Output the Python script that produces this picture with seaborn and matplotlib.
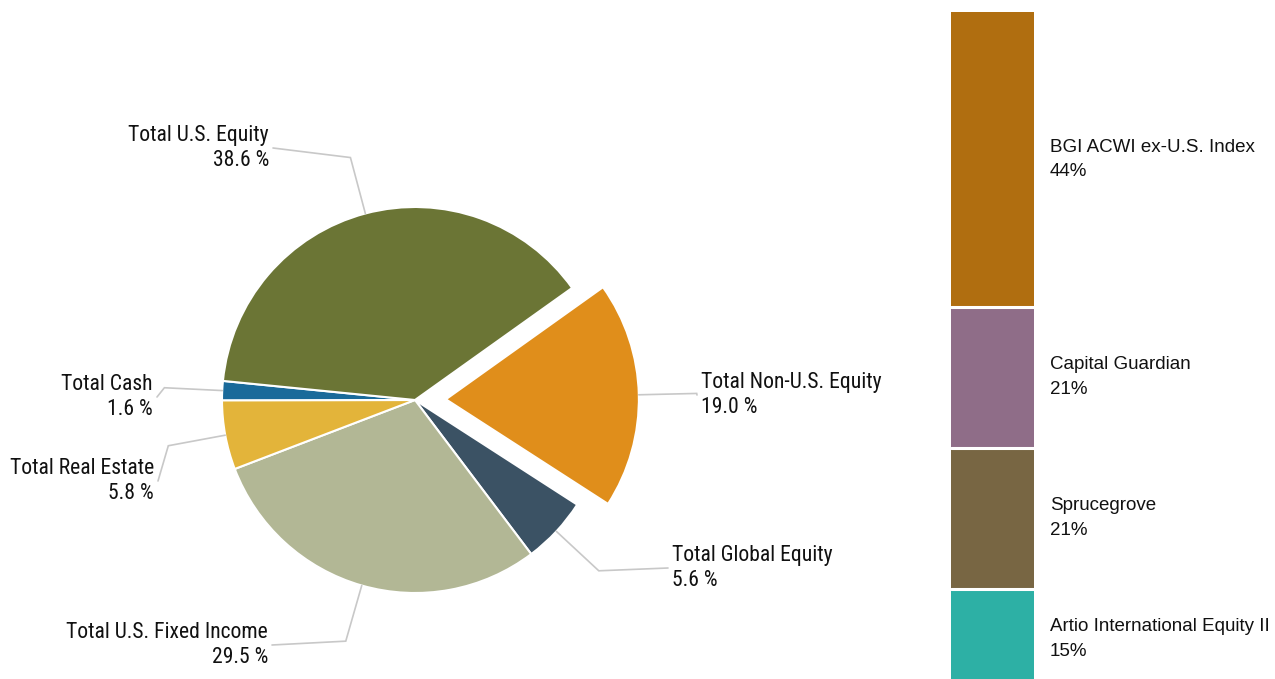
# Alocação de ativos: pizza por classe + barra empilhada dos gestores Non-U.S.
import numpy as np
import pandas as pd
import seaborn as sns
import matplotlib.pyplot as plt

# --- DADOS ---
pie_labels = ["Total Non-U.S. Equity", "Total Global Equity", "Total U.S. Fixed Income",
              "Total Real Estate", "Total Cash", "Total U.S. Equity"]
pie_values = [19.0, 5.6, 29.5, 5.8, 1.6, 38.6]
pie_colors = ["#e08e1b", "#3b5264", "#b2b795", "#e3b43a", "#1a6a9a", "#6b7535"]

mgr_labels = ["BGI ACWI ex-U.S. Index", "Capital Guardian", "Sprucegrove",
              "Artio International Equity II"]
mgr_values = [44, 21, 21, 15]
mgr_colors = ["#b06e10", "#8f6d88", "#786643", "#2db0a5"]

# --- CONFIGURAÇÕES ---
sns.set_theme(style="white")
plt.rcParams["font.family"] = ["Liberation Sans", "DejaVu Sans"]
narrow = ["Roboto Condensed", "Liberation Sans", "DejaVu Sans"]
txt_color = "#111111"
line_color = "#c8c8c8"

W, H = 1275, 679
fig = plt.figure(figsize=(W / 100, H / 100), dpi=100)

# --- PIZZA ---
cx, cy, R = 415, 400, 193          # centro e raio em pixels
pie_w = 830
ax = fig.add_axes([0, 0, pie_w / W, 1])


def px2d(px, py):
    return (px - cx) / R, (cy - py) / R


wedges, _ = ax.pie(pie_values, colors=pie_colors, startangle=35.5, counterclock=False,
                   explode=[0.16, 0, 0, 0, 0, 0],
                   wedgeprops=dict(edgecolor="white", linewidth=1.5))
ax.set_aspect("auto")
ax.set_xlim(px2d(0, 0)[0], px2d(pie_w, 0)[0])
ax.set_ylim(px2d(0, H)[1], px2d(0, 0)[1])
ax.axis("off")

# posição final da linha de chamada (pixels) e alinhamento do texto
label_pos = [(697, 395, "left"), (668, 568, "left"), (272, 645, "right"),
             (158, 481, "right"), (157, 397, "right"), (273, 148, "right")]

for w, lab, val, (ex, ey, ha) in zip(wedges, pie_labels, pie_values, label_pos):
    ang = np.deg2rad((w.theta1 + w.theta2) / 2)
    c0, c1 = w.center
    p0 = (c0 + np.cos(ang), c1 + np.sin(ang))
    p1 = (c0 + 1.3 * np.cos(ang), c1 + 1.3 * np.sin(ang))
    p2 = px2d(ex, ey)
    ax.plot([p0[0], p1[0], p2[0]], [p0[1], p1[1], p2[1]], color=line_color, lw=1.2,
            solid_joinstyle="miter", clip_on=False)
    gap = 4 / R if ha == "left" else -4 / R
    ax.text(p2[0] + gap, p2[1], f"{lab}\n{val:.1f} %", ha=ha, va="center",
            multialignment=ha, fontsize=15.6, family=narrow, color=txt_color,
            linespacing=1.3)

# --- BARRA EMPILHADA ---
ax2 = fig.add_axes([951 / W, 0, 83 / W, 1])
cum = np.cumsum(mgr_values[::-1])[::-1]
for top, col in zip(cum, mgr_colors):
    sns.barplot(x=["m"], y=[top], color=col, width=1, saturation=1,
                linewidth=0, ax=ax2)
for b in cum[1:]:
    ax2.axhline(b, color="white", lw=2.2)

ax2.set_xlim(-0.5, 0.5)
ax2.set_ylim(1.5, 102.8)
ax2.axis("off")

for lab, val, top in zip(mgr_labels, mgr_values, cum):
    ax2.text(0.69, top - val / 2, f"{lab}\n{val}%", ha="left", va="center",
             fontsize=13.5, color=txt_color, linespacing=1.6, clip_on=False)

fig.savefig("out.png", dpi=100)
